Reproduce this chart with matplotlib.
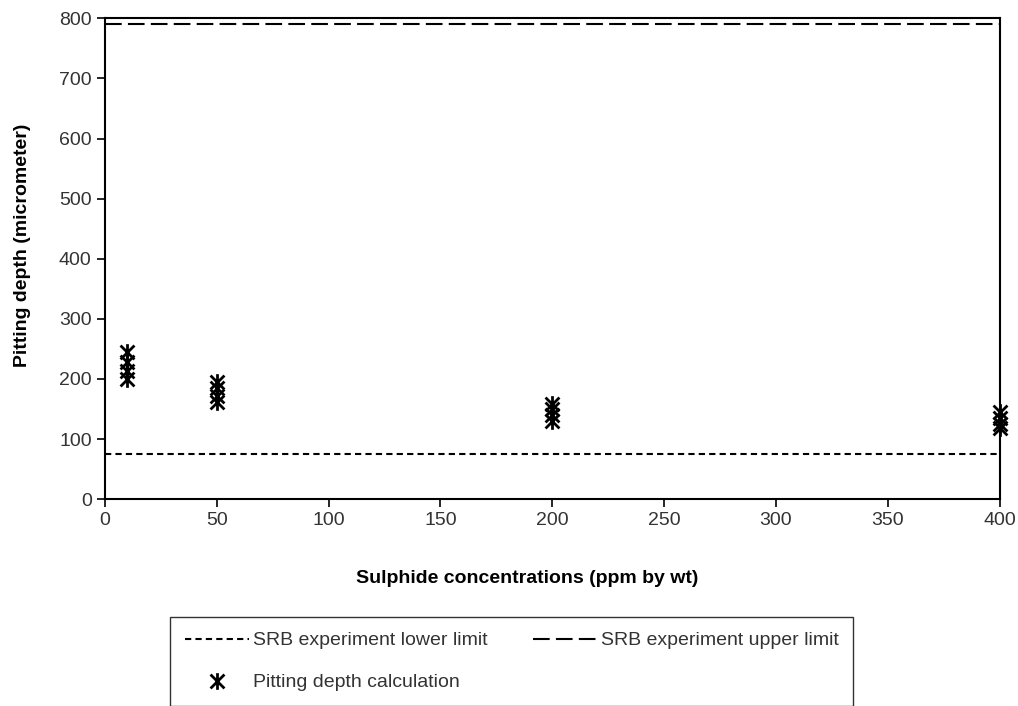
import numpy as np
import matplotlib.pyplot as plt
from matplotlib.path import Path

plt.rcParams['font.family'] = ['Liberation Sans', 'DejaVu Sans']
plt.rcParams['text.color'] = '#333333'
plt.rcParams['xtick.labelcolor'] = '#333333'
plt.rcParams['ytick.labelcolor'] = '#333333'

conc = [10, 10, 10, 10, 50, 50, 50, 50, 200, 200, 200, 200, 400, 400, 400, 400]
depth = [245, 228, 213, 200, 195, 185, 172, 162, 158, 150, 140, 130, 145, 135, 125, 118]
lower_limit = 75
upper_limit = 790

# excel-style star marker: x with a vertical bar
star = Path([(-1, -1), (1, 1), (-1, 1), (1, -1), (0, -1.2), (0, 1.2)],
            [Path.MOVETO, Path.LINETO, Path.MOVETO, Path.LINETO, Path.MOVETO, Path.LINETO])

fig = plt.figure(figsize=(10.18, 7.06), dpi=100)
ax = fig.add_axes([0.103, 0.293, 0.879, 0.681])

l1, = ax.plot([0, 400], [lower_limit, lower_limit], color='black', ls=(0, (3, 2)), lw=1.5,
              label='SRB experiment lower limit')
l2, = ax.plot([0, 400], [upper_limit, upper_limit], color='black', ls=(0, (8, 3)), lw=1.5,
              label='SRB experiment upper limit')
pts, = ax.plot(conc, depth, ls='none', marker=star, ms=12, mew=2, color='black',
               label='Pitting depth calculation', clip_on=False, zorder=5)

ax.set_xlim(0, 400)
ax.set_ylim(0, 800)
ax.set_xticks(np.arange(0, 401, 50))
ax.set_yticks(np.arange(0, 801, 100))
ax.tick_params(labelsize=14, direction='out', length=6, width=1.2)
for s in ax.spines.values():
    s.set_linewidth(1.5)

ax.set_xlabel('Sulphide concentrations (ppm by wt)', fontsize=14, fontweight='bold', color='black')
ax.xaxis.set_label_coords(0.472, -0.148)
ax.set_ylabel('Pitting depth (micrometer)', fontsize=14, fontweight='bold', color='black')
ax.yaxis.set_label_coords(-0.083, 0.528)

leg = fig.legend([l1, pts, l2],
                 [l1.get_label(), pts.get_label(), l2.get_label()],
                 ncol=2, loc='lower left', bbox_to_anchor=(0.167, 0.0, 0.671, 0.126),
                 mode='expand', fontsize=14, fancybox=False, edgecolor='black',
                 handlelength=3.3, handletextpad=0.2, borderpad=0.75, labelspacing=1.26,
                 borderaxespad=0.0)
leg.get_frame().set_linewidth(1.0)

fig.savefig('out.png', dpi=100)
